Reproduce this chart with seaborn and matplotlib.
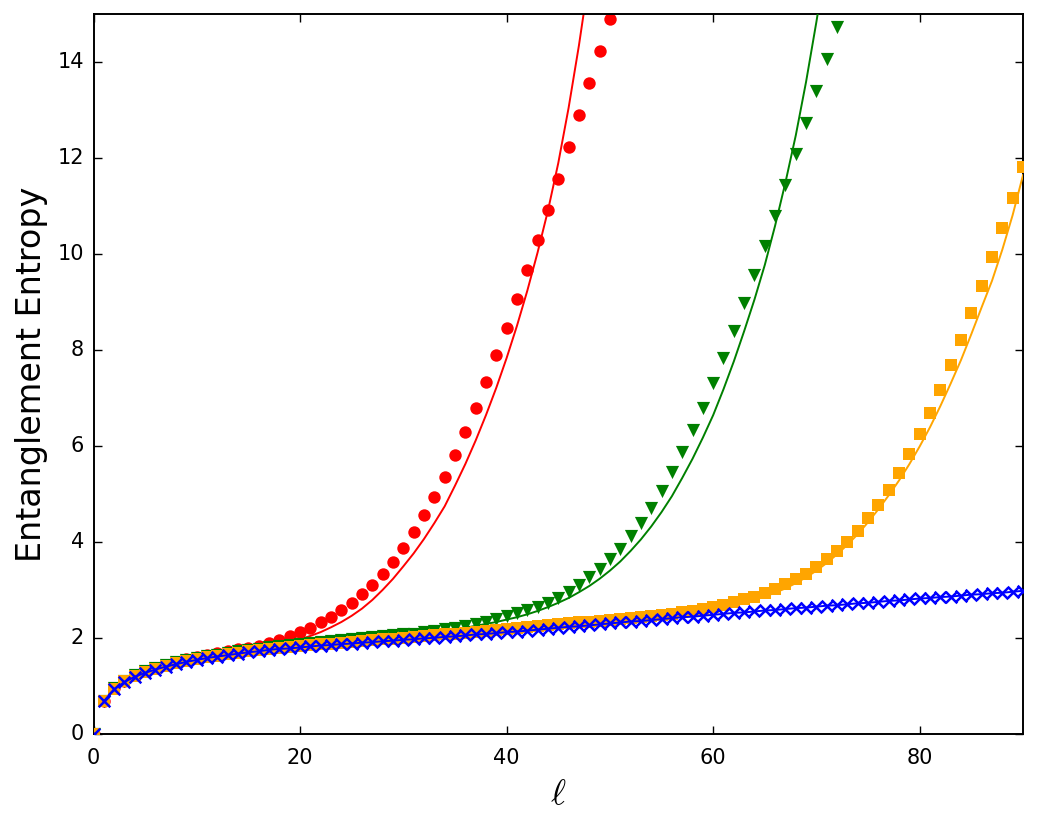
import matplotlib
matplotlib.use('Agg')
import matplotlib.pyplot as plt
import seaborn as sns

plt.style.use('classic')
plt.rcParams['font.family'] = ['DejaVu Sans']
plt.rcParams['mathtext.fontset'] = 'cm'

# red circles (data) and red fit
ell_red = list(range(0, 51))
S_red = [0.00, 0.70, 0.96, 1.12, 1.23, 1.32, 1.39, 1.45, 1.51, 1.56,
         1.61, 1.65, 1.69, 1.73, 1.77, 1.80, 1.84, 1.90, 1.965, 2.04,
         2.125, 2.22, 2.33, 2.44, 2.58, 2.74, 2.92, 3.11, 3.34, 3.60,
         3.875, 4.21, 4.56, 4.95, 5.36, 5.81, 6.29, 6.80, 7.34, 7.90,
         8.46, 9.07, 9.68, 10.30, 10.93, 11.58, 12.24, 12.90, 13.56, 14.23,
         14.90]
ell_red_fit = list(range(1, 49))
S_red_fit = [0.69, 0.95, 1.11, 1.22, 1.30, 1.37, 1.43, 1.48, 1.53, 1.57,
             1.61, 1.65, 1.68, 1.71, 1.75, 1.78, 1.82, 1.86, 1.92, 1.98,
             2.05, 2.13, 2.23, 2.34, 2.47, 2.62, 2.80, 3.01, 3.24, 3.50,
             3.77, 4.07, 4.40, 4.75, 5.18, 5.63, 6.12, 6.65, 7.22, 7.84,
             8.51, 9.24, 10.04, 10.91, 11.90, 13.05, 14.35, 15.80]

# green triangles and green fit
ell_green = list(range(0, 73))
S_green = [0.00, 0.70, 0.96, 1.12, 1.23, 1.31, 1.38, 1.44, 1.50, 1.55,
           1.59, 1.63, 1.66, 1.70, 1.73, 1.76, 1.78, 1.81, 1.83, 1.86,
           1.88, 1.90, 1.92, 1.94, 1.96, 1.98, 2.00, 2.02, 2.04, 2.06,
           2.08, 2.10, 2.13, 2.16, 2.19, 2.22, 2.26, 2.30, 2.35, 2.40,
           2.46, 2.52, 2.58, 2.65, 2.74, 2.85, 2.97, 3.11, 3.27, 3.45,
           3.65, 3.87, 4.13, 4.41, 4.71, 5.07, 5.46, 5.88, 6.33, 6.80,
           7.31, 7.85, 8.40, 8.98, 9.58, 10.17, 10.80, 11.44, 12.09, 12.74,
           13.40, 14.06, 14.73]
ell_green_fit = list(range(1, 72))
S_green_fit = [0.69, 0.95, 1.11, 1.22, 1.30, 1.37, 1.43, 1.48, 1.53, 1.57,
               1.61, 1.64, 1.68, 1.71, 1.74, 1.76, 1.79, 1.81, 1.84, 1.86,
               1.88, 1.90, 1.92, 1.94, 1.96, 1.98, 2.00, 2.02, 2.04, 2.06,
               2.08, 2.10, 2.13, 2.16, 2.19, 2.22, 2.26, 2.30, 2.34, 2.39,
               2.44, 2.50, 2.57, 2.65, 2.74, 2.84, 2.96, 3.09, 3.24, 3.41,
               3.60, 3.82, 4.06, 4.33, 4.63, 4.96, 5.34, 5.74, 6.18, 6.65,
               7.19, 7.77, 8.40, 9.06, 9.78, 10.60, 11.50, 12.48, 13.60, 14.85,
               16.20]

# orange squares and orange fit
ell_orange = list(range(0, 91))
S_orange = [0.00, 0.69, 0.95, 1.11, 1.22, 1.30, 1.37, 1.43, 1.48, 1.53,
            1.57, 1.61, 1.64, 1.67, 1.70, 1.73, 1.76, 1.78, 1.80, 1.82,
            1.84, 1.86, 1.88, 1.89, 1.91, 1.93, 1.94, 1.96, 1.98, 1.99,
            2.01, 2.03, 2.04, 2.06, 2.08, 2.10, 2.12, 2.14, 2.15, 2.17,
            2.19, 2.21, 2.23, 2.25, 2.27, 2.29, 2.31, 2.33, 2.35, 2.37,
            2.39, 2.41, 2.43, 2.45, 2.47, 2.49, 2.51, 2.54, 2.57, 2.61,
            2.65, 2.69, 2.75, 2.81, 2.87, 2.95, 3.03, 3.125, 3.23, 3.35,
            3.49, 3.65, 3.82, 4.01, 4.24, 4.50, 4.78, 5.10, 5.45, 5.84,
            6.25, 6.70, 7.17, 7.69, 8.21, 8.77, 9.35, 9.94, 10.55, 11.17,
            11.81]
ell_orange_fit = list(range(1, 91))
S_orange_fit = [0.69, 0.94, 1.10, 1.21, 1.29, 1.36, 1.42, 1.47, 1.52,
                1.56, 1.60, 1.63, 1.66, 1.69, 1.72, 1.75, 1.77, 1.79, 1.81,
                1.83, 1.85, 1.87, 1.88, 1.90, 1.92, 1.93, 1.95, 1.97, 1.98,
                2.00, 2.02, 2.03, 2.05, 2.07, 2.09, 2.11, 2.13, 2.15, 2.17,
                2.19, 2.21, 2.23, 2.25, 2.27, 2.29, 2.31, 2.33, 2.35, 2.37,
                2.39, 2.41, 2.43, 2.45, 2.47, 2.49, 2.51, 2.53, 2.55, 2.57,
                2.60, 2.64, 2.69, 2.74, 2.80, 2.87, 2.95, 3.04, 3.15, 3.27,
                3.41, 3.57, 3.75, 3.95, 4.17, 4.42, 4.69, 4.98, 5.29, 5.63,
                6.00, 6.40, 6.84, 7.31, 7.80, 8.34, 8.90, 9.45, 10.10, 10.82,
                11.65]

# blue crosses and blue fit
ell_blue = list(range(0, 91))
S_blue = [0.00, 0.69, 0.94, 1.09, 1.20, 1.28, 1.35, 1.41, 1.46, 1.51,
          1.55, 1.59, 1.62, 1.65, 1.68, 1.71, 1.73, 1.76, 1.78, 1.79,
          1.81, 1.83, 1.85, 1.86, 1.88, 1.89, 1.91, 1.92, 1.94, 1.95,
          1.97, 1.98, 2.00, 2.01, 2.03, 2.04, 2.06, 2.08, 2.09, 2.11,
          2.13, 2.14, 2.16, 2.18, 2.20, 2.22, 2.24, 2.25, 2.27, 2.29,
          2.31, 2.33, 2.35, 2.36, 2.38, 2.40, 2.42, 2.44, 2.45, 2.47,
          2.49, 2.51, 2.53, 2.54, 2.56, 2.58, 2.59, 2.61, 2.63, 2.64,
          2.66, 2.68, 2.69, 2.71, 2.73, 2.74, 2.76, 2.78, 2.79, 2.81,
          2.83, 2.84, 2.86, 2.87, 2.89, 2.91, 2.92, 2.94, 2.95, 2.97,
          2.99]
ell_blue_fit = ell_blue[1:]
S_blue_fit = S_blue[1:]

fig = plt.figure(figsize=(10.39, 8.26), dpi=100)
ax = fig.add_axes([0.09, 0.111, 0.8946, 0.8716])

# drawn red first, orange and blue last (orange covers the shared low band)
series = [
    (ell_red, S_red, ell_red_fit, S_red_fit, 'r', 'o', 80),
    (ell_green, S_green, ell_green_fit, S_green_fit, 'g', 'v', 90),
    (ell_orange, S_orange, ell_orange_fit, S_orange_fit, 'orange', 's', 80),
]
z = 2
for lx, ly, fx, fy, col, mk, sz in series:
    sns.scatterplot(x=lx, y=ly, marker=mk, s=sz, color=col, linewidth=0, ax=ax, zorder=z)
    sns.lineplot(x=fx, y=fy, color=col, lw=1.4, estimator=None, ax=ax, zorder=z + 0.5)
    z += 1

sns.lineplot(x=ell_blue_fit, y=S_blue_fit, color='b', lw=1.4, estimator=None, ax=ax, zorder=6)
sns.scatterplot(x=ell_blue, y=S_blue, marker='x', s=70, color='b', linewidth=1.8, ax=ax, zorder=7)

ax.set_xlim(0, 90)
ax.set_ylim(0, 15)
ax.set_xticks([0, 20, 40, 60, 80])
ax.set_yticks([0, 2, 4, 6, 8, 10, 12, 14])
ax.tick_params(direction='in', length=6, width=1, labelsize=15, top=True, right=True)
ax.tick_params(axis='x', pad=10)
ax.tick_params(axis='y', pad=7)
for sp in ax.spines.values():
    sp.set_linewidth(1.4)
ax.set_xlabel(r'$\ell$', fontsize=26, labelpad=6)
ax.set_ylabel('Entanglement Entropy', fontsize=24, labelpad=7)
ax.grid(False)

plt.savefig('out.png', dpi=100)
